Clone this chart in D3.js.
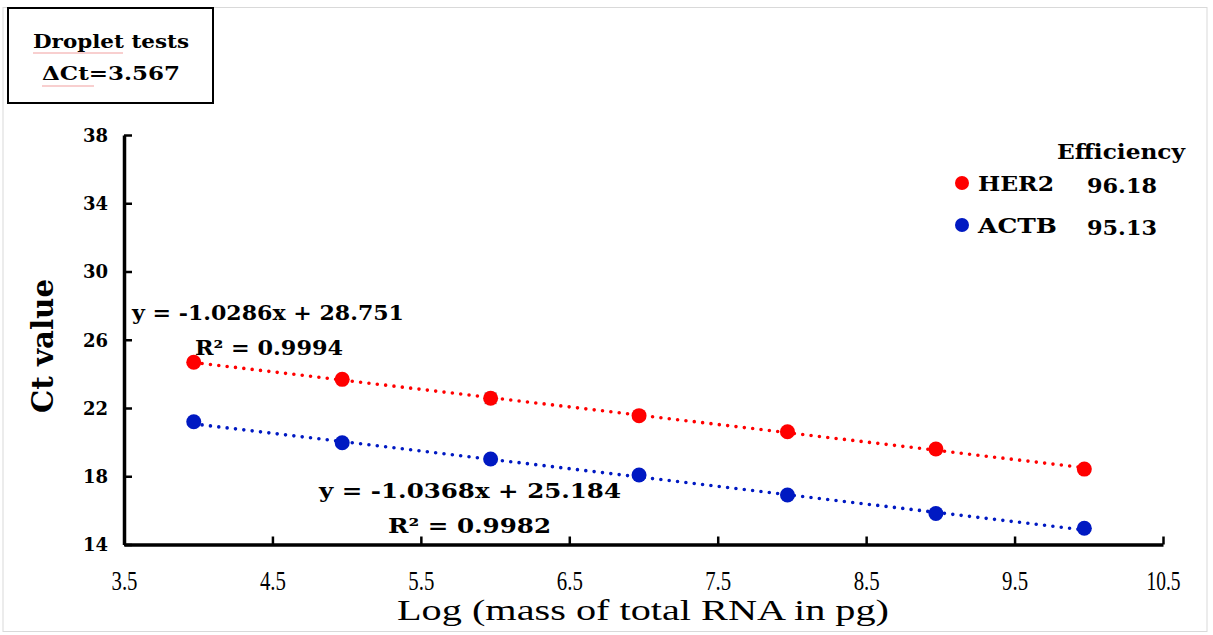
<!DOCTYPE html>
<html>
<head>
<meta charset="utf-8">
<script src="https://cdn.jsdelivr.net/npm/d3@7/dist/d3.min.js"></script>
<style>
  html, body { margin: 0; padding: 0; background: #fff; }
  svg { display: block; }
  text { font-family: "DejaVu Serif", "Liberation Serif", serif; fill: #000; }
</style>
</head>
<body>
<svg id="chart" width="1213" height="635"></svg>
<script>
// Log10 of total RNA mass (pg) for the dilution series
const logMass = [3.97, 4.97, 5.97, 6.97, 7.97, 8.97, 9.97];
// Mean Ct values per gene
const her2Ct = [24.68, 23.68, 22.57, 21.55, 20.61, 19.60, 18.42];
const actbCt = [21.19, 19.96, 19.01, 18.07, 16.90, 15.82, 14.95];
// Standard deviations (error bars)
const her2Sd = [0.05, 0.05, 0.30, 0.22, 0.05, 0.22, 0.05];
const actbSd = [0.05, 0.05, 0.05, 0.05, 0.05, 0.05, 0.05];
// Linear fits
const her2Fit = { slope: -1.0286, intercept: 28.751, r2: 0.9994 };
const actbFit = { slope: -1.0368, intercept: 25.184, r2: 0.9982 };
const efficiency = { HER2: "96.18", ACTB: "95.13" };
const deltaCt = "3.567";
// Axis ticks
const xTicks = [3.5, 4.5, 5.5, 6.5, 7.5, 8.5, 9.5, 10.5];
const yTicks = [14, 18, 22, 26, 30, 34, 38];

const RED = "#ff0000", BLUE = "#0019c2";

const svg = d3.select("#chart");

// light frame of the chart area
svg.append("rect").attr("x", 3).attr("y", 7.5).attr("width", 1204).attr("height", 624)
  .attr("fill", "none").attr("stroke", "#d9d9d9").attr("stroke-width", 1);

const x = d3.scaleLinear().domain([3.5, 10.5]).range([124, 1163]);
const y = d3.scaleLinear().domain([14, 38]).range([544.5, 135]);

// x axis
const gx = svg.append("g").attr("transform", "translate(0,544.5)")
  .call(d3.axisBottom(x).tickValues(xTicks).tickSizeInner(-8).tickSizeOuter(0)
    .tickFormat(d3.format(".1f")));
gx.select(".domain").attr("stroke", "#000").attr("stroke-width", 3.5);
gx.selectAll(".tick line").attr("stroke", "#000").attr("stroke-width", 2.5);
gx.selectAll(".tick text").attr("y", 45).attr("dy", null)
  .style("font-family", "'Liberation Serif', serif").style("font-size", "27px")
  .attr("textLength", d => d >= 10 ? 34 : 26).attr("lengthAdjust", "spacingAndGlyphs");

// y axis
const gy = svg.append("g").attr("transform", "translate(124,0)")
  .call(d3.axisLeft(y).tickValues(yTicks).tickSizeInner(-8).tickSizeOuter(0));
gy.select(".domain").attr("stroke", "#000").attr("stroke-width", 3.5);
gy.selectAll(".tick line").attr("stroke", "#000").attr("stroke-width", 2.5);
gy.selectAll(".tick text").attr("x", -16).attr("dy", "0.35em")
  .style("font-size", "18px").style("font-weight", "bold");

// axis titles
svg.append("text").attr("x", 643).attr("y", 620).attr("text-anchor", "middle")
  .style("font-family", "'Liberation Serif', serif").style("font-size", "29px")
  .attr("textLength", 492).attr("lengthAdjust", "spacingAndGlyphs")
  .text("Log (mass of total RNA in pg)");
svg.append("text").attr("transform", "translate(53,346) rotate(-90)")
  .attr("text-anchor", "middle").style("font-size", "29px").style("font-weight", "bold")
  .attr("textLength", 134).attr("lengthAdjust", "spacingAndGlyphs")
  .text("Ct value");

// series
const series = [
  { name: "HER2", ct: her2Ct, sd: her2Sd, fit: her2Fit, color: RED },
  { name: "ACTB", ct: actbCt, sd: actbSd, fit: actbFit, color: BLUE }
];

series.forEach(s => {
  const g = svg.append("g");
  const x0 = logMass[0], x1 = logMass[logMass.length - 1];
  // dotted trend line from the fitted equation
  g.append("line")
    .attr("x1", x(x0)).attr("y1", y(s.fit.slope * x0 + s.fit.intercept))
    .attr("x2", x(x1)).attr("y2", y(s.fit.slope * x1 + s.fit.intercept))
    .attr("stroke", s.color).attr("stroke-width", 3.6)
    .attr("stroke-linecap", "round").attr("stroke-dasharray", "0 8.4");
  // error bars
  const pts = logMass.map((m, i) => ({ m, c: s.ct[i], e: s.sd[i] }));
  const eb = g.selectAll(".eb").data(pts).enter().append("g").attr("stroke", "#7f7f7f").attr("stroke-width", 1.5);
  eb.append("line").attr("x1", d => x(d.m)).attr("x2", d => x(d.m))
    .attr("y1", d => y(d.c + d.e)).attr("y2", d => y(d.c - d.e));
  eb.append("line").attr("x1", d => x(d.m) - 6).attr("x2", d => x(d.m) + 6)
    .attr("y1", d => y(d.c + d.e)).attr("y2", d => y(d.c + d.e));
  eb.append("line").attr("x1", d => x(d.m) - 6).attr("x2", d => x(d.m) + 6)
    .attr("y1", d => y(d.c - d.e)).attr("y2", d => y(d.c - d.e));
  // points
  g.selectAll("circle").data(pts).enter().append("circle")
    .attr("cx", d => x(d.m)).attr("cy", d => y(d.c)).attr("r", 7.5)
    .attr("fill", s.color);
});

// fit equations
function eqText(fit) {
  return "y = " + fit.slope.toFixed(4) + "x + " + fit.intercept.toFixed(3);
}
const eqStyle = sel => sel.style("font-size", "20px").style("font-weight", "bold")
  .attr("lengthAdjust", "spacingAndGlyphs");
svg.append("text").attr("x", 132).attr("y", 320).call(eqStyle).attr("textLength", 272).text(eqText(her2Fit));
svg.append("text").attr("x", 195).attr("y", 355).call(eqStyle).attr("textLength", 148).text("R\u00B2 = " + her2Fit.r2.toFixed(4));
svg.append("text").attr("x", 319).attr("y", 498).call(eqStyle).attr("textLength", 302).text(eqText(actbFit));
svg.append("text").attr("x", 388).attr("y", 533).call(eqStyle).attr("textLength", 163).text("R\u00B2 = " + actbFit.r2.toFixed(4));

// legend with amplification efficiency
const leg = svg.append("g");
leg.append("text").attr("x", 1057).attr("y", 159).style("font-size", "21px").style("font-weight", "bold")
  .attr("textLength", 128).attr("lengthAdjust", "spacingAndGlyphs").text("Efficiency");
series.forEach((s, i) => {
  const cy = 183 + i * 42;
  leg.append("circle").attr("cx", 962).attr("cy", cy).attr("r", 7).attr("fill", s.color);
  leg.append("text").attr("x", 978).attr("y", cy + 8).style("font-size", "20px").style("font-weight", "bold")
    .attr("textLength", s.name === "HER2" ? 76 : 79).attr("lengthAdjust", "spacingAndGlyphs").text(s.name);
  leg.append("text").attr("x", 1087).attr("y", cy + 10).style("font-size", "21px").style("font-weight", "bold")
    .attr("textLength", 70).attr("lengthAdjust", "spacingAndGlyphs").text(efficiency[s.name]);
});

// annotation box
const box = svg.append("g");
box.append("rect").attr("x", 8).attr("y", 8).attr("width", 205).attr("height", 95)
  .attr("fill", "#fff").attr("stroke", "#000").attr("stroke-width", 2);
box.append("text").attr("x", 33).attr("y", 48).style("font-size", "18px").style("font-weight", "bold")
  .attr("textLength", 156).attr("lengthAdjust", "spacingAndGlyphs").text("Droplet tests");
box.append("text").attr("x", 42).attr("y", 80).style("font-size", "19px").style("font-weight", "bold")
  .attr("textLength", 138).attr("lengthAdjust", "spacingAndGlyphs").text("\u0394Ct=" + deltaCt);
// spell-check squiggles under the words
box.append("line").attr("x1", 33).attr("x2", 123).attr("y1", 53).attr("y2", 53)
  .attr("stroke", "#f2a0a0").attr("stroke-width", 1.2);
box.append("line").attr("x1", 42).attr("x2", 94).attr("y1", 86).attr("y2", 86)
  .attr("stroke", "#f2a0a0").attr("stroke-width", 1.2);
</script>
</body>
</html>
